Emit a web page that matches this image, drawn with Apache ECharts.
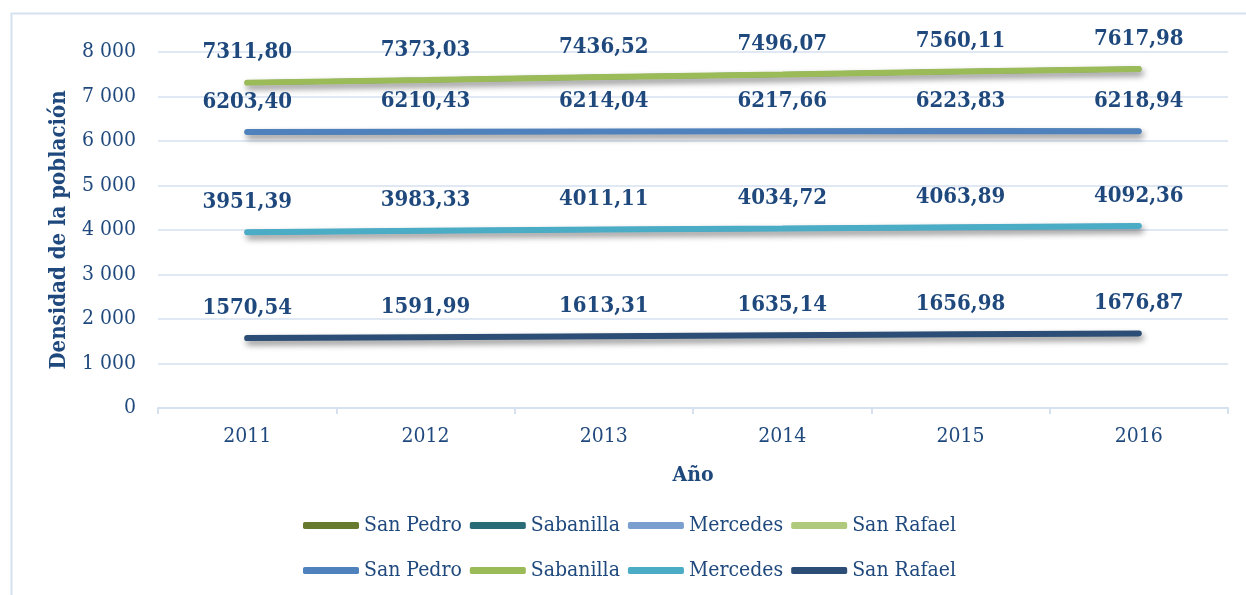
<!DOCTYPE html>
<html>
<head>
<meta charset="utf-8">
<script src="https://cdn.jsdelivr.net/npm/echarts@6/dist/echarts.min.js"></script>
<style>
  html, body { margin: 0; padding: 0; background: #fff; }
  #chart { width: 1246px; height: 595px; }
</style>
</head>
<body>
<div id="chart"></div>
<script>
// data
const years = ["2011", "2012", "2013", "2014", "2015", "2016"];
const names = ["San Pedro", "Sabanilla", "Mercedes", "San Rafael"];
const sanPedro = [6203.40, 6210.43, 6214.04, 6217.66, 6223.83, 6218.94];
const sabanilla = [7311.80, 7373.03, 7436.52, 7496.07, 7560.11, 7617.98];
const mercedes = [3951.39, 3983.33, 4011.11, 4034.72, 4063.89, 4092.36];
const sanRafael = [1570.54, 1591.99, 1613.31, 1635.14, 1656.98, 1676.87];
const yTicks = [0, 1000, 2000, 3000, 4000, 5000, 6000, 7000, 8000];

const seriesData = [sanPedro, sabanilla, mercedes, sanRafael];
const hiddenColors = ["#677A2E", "#2A6B78", "#7B9FCF", "#AFCA7C"];
const mainColors = ["#4F81BD", "#9BBB59", "#4BACC6", "#2C4D75"];

const FONT = '"DejaVu Serif Condensed", "Liberation Serif", serif';
const TXT = "#1F497D";

const fmtVal = v => v.toFixed(2).replace(".", ",");
const fmtTick = v => String(v).replace(/\B(?=(\d{3})+(?!\d))/g, " ");

const series = [];
// first legend row: drawn underneath the visible lines
names.forEach((n, i) => {
  series.push({
    name: n + " #1",
    type: "line",
    data: seriesData[i],
    z: 1,
    symbol: "none",
    color: hiddenColors[i],
    lineStyle: { width: 5, cap: "round", color: hiddenColors[i] }
  });
});
names.forEach((n, i) => {
  series.push({
    name: n + " #2",
    type: "line",
    data: seriesData[i],
    z: 3,
    symbol: "circle",
    symbolSize: 0,
    showSymbol: true,
    color: mainColors[i],
    lineStyle: {
      width: 6, cap: "round", color: mainColors[i],
      shadowColor: "rgba(0,0,0,0.45)", shadowBlur: 6, shadowOffsetX: 2, shadowOffsetY: 4
    },
    label: {
      show: true, position: "top", distance: 19,
      formatter: p => fmtVal(p.value),
      fontFamily: FONT, fontSize: 22, fontWeight: "bold", color: TXT,
      textShadowColor: "rgba(31,73,125,0.55)", textShadowOffsetX: 1.5, textShadowOffsetY: 1.5
    }
  });
});

const legendBase = {
  left: 298,
  icon: "roundRect",
  itemWidth: 56,
  itemHeight: 7,
  itemGap: 8,
  selectedMode: false,
  formatter: name => name.replace(/ #\d$/, ""),
  textStyle: { fontFamily: FONT, fontSize: 21, color: TXT, width: 103, padding: [0, 0, 0, 0] }
};

const chart = echarts.init(document.getElementById("chart"));
chart.setOption({
  animation: false,
  graphic: [{
    type: "rect", left: 9, top: 11,
    shape: { width: 1260, height: 620 },
    style: { fill: "none", stroke: "#D6E1F0", lineWidth: 2 },
    silent: true
  }],
  grid: { left: 158, right: 18, top: 52, bottom: 187 },
  legend: [
    Object.assign({}, legendBase, { top: 510, data: names.map(n => n + " #1") }),
    Object.assign({}, legendBase, { top: 555, data: names.map(n => n + " #2") })
  ],
  xAxis: {
    type: "category",
    data: years,
    boundaryGap: true,
    name: "Año",
    nameLocation: "middle",
    nameGap: 57,
    nameTextStyle: { fontFamily: FONT, fontSize: 21, fontWeight: "bold", color: TXT },
    axisLine: { lineStyle: { color: "#D6E1F0", width: 2 } },
    axisTick: { show: true, length: 6, lineStyle: { color: "#D6E1F0", width: 2 } },
    axisLabel: { fontFamily: FONT, fontSize: 21, color: TXT, margin: 18 }
  },
  yAxis: {
    type: "value",
    min: yTicks[0],
    max: yTicks[yTicks.length - 1],
    interval: 1000,
    name: "Densidad de la población",
    nameLocation: "middle",
    nameGap: 88,
    nameTextStyle: { fontFamily: FONT, fontSize: 22, fontWeight: "bold", color: TXT },
    axisLine: { show: false },
    axisTick: { show: false },
    splitLine: { lineStyle: { color: "#D6E1F0", width: 1.5 } },
    axisLabel: { fontFamily: FONT, fontSize: 21, color: TXT, margin: 22, formatter: fmtTick }
  },
  series: series
});
</script>
</body>
</html>
